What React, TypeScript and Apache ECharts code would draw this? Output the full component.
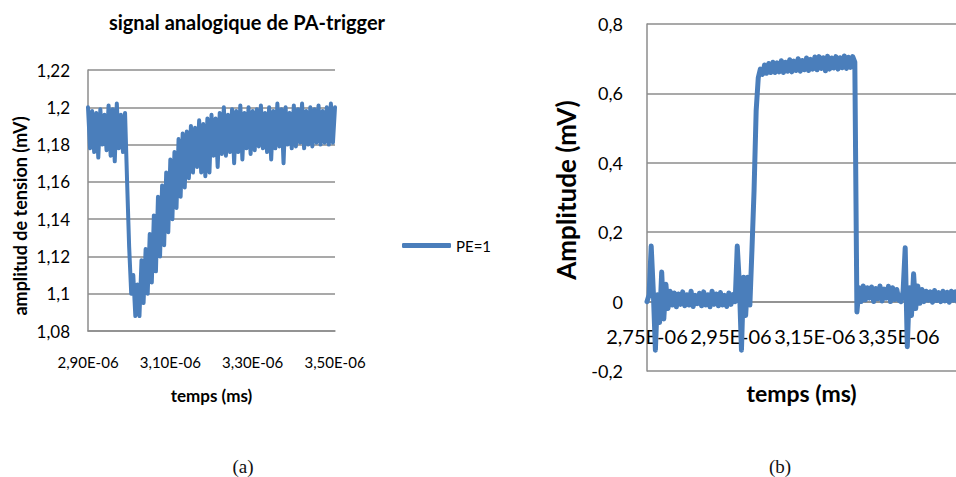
import React, { useEffect, useRef } from "react";
import * as echarts from "echarts";

// ---- Data: chart (a) — signal analogique de PA-trigger ----
const leftSeriesName = "PE=1";
const leftStartTime = 2.9e-6; // first sample time
const leftSampleStep = 0.005e-6;
const leftAmplitude = [
  1.2, 1.178, 1.198, 1.176, 1.197, 1.173, 1.199, 1.18, 1.196, 1.177,
  1.201, 1.174, 1.199, 1.171, 1.202, 1.178, 1.196, 1.176, 1.197, 1.16,
  1.125, 1.1, 1.11, 1.088, 1.105, 1.088, 1.118, 1.095, 1.124, 1.1,
  1.132, 1.106, 1.142, 1.112, 1.152, 1.12, 1.158, 1.126, 1.165, 1.133,
  1.172, 1.14, 1.176, 1.146, 1.183, 1.152, 1.186, 1.157, 1.187, 1.162,
  1.19, 1.165, 1.189, 1.168, 1.193, 1.165, 1.191, 1.163, 1.194, 1.165,
  1.196, 1.174, 1.194, 1.168, 1.197, 1.175, 1.2, 1.174, 1.196, 1.176,
  1.199, 1.17, 1.198, 1.176, 1.201, 1.172, 1.197, 1.178, 1.2, 1.175,
  1.198, 1.177, 1.199, 1.179, 1.201, 1.178, 1.197, 1.176, 1.2, 1.172,
  1.198, 1.178, 1.202, 1.179, 1.199, 1.17, 1.2, 1.18, 1.197, 1.178,
  1.201, 1.179, 1.199, 1.181, 1.202, 1.178, 1.198, 1.18, 1.2, 1.179,
  1.199, 1.181, 1.201, 1.18, 1.198, 1.181, 1.2, 1.18, 1.202, 1.181,
  1.2,
];
const leftYTicks = { min: 1.08, max: 1.22, step: 0.02 };
const leftXTicks = { min: 2.9e-6, max: 3.5e-6, step: 0.2e-6 };

// ---- Data: chart (b) — Amplitude ----
const rightSeriesName = "Amplitude";
const rightStartTime = 2.75e-6;
const rightSampleStep = 0.005e-6;
const rightAmplitude = [
  0.0, 0.02, 0.16, 0.03, -0.14, 0.02, -0.06, 0.085, -0.05, 0.05,
  -0.02, 0.03, -0.01, 0.025, -0.015, 0.022, -0.008, 0.028, -0.012, 0.02,
  -0.01, 0.03, -0.014, 0.018, -0.006, 0.024, -0.012, 0.028, -0.01, 0.02,
  -0.015, 0.03, -0.008, 0.022, -0.012, 0.026, -0.01, 0.018, -0.014, 0.025,
  -0.008, 0.02, 0.0, 0.16, 0.05, -0.14, 0.07, -0.04, 0.07, -0.01,
  0.15, 0.32, 0.55, 0.645, 0.67, 0.655, 0.682, 0.658, 0.686, 0.66,
  0.69, 0.66, 0.688, 0.662, 0.694, 0.66, 0.69, 0.664, 0.697, 0.662,
  0.693, 0.666, 0.7, 0.664, 0.695, 0.668, 0.702, 0.666, 0.698, 0.67,
  0.705, 0.668, 0.706, 0.672, 0.703, 0.665, 0.707, 0.67, 0.702, 0.673,
  0.706, 0.67, 0.703, 0.674, 0.708, 0.672, 0.704, 0.675, 0.706, 0.69,
  -0.03, 0.04, 0.0, 0.045, 0.005, 0.04, 0.01, 0.042, 0.0, 0.038,
  0.008, 0.045, 0.002, 0.036, 0.01, 0.044, 0.0, 0.04, 0.006, 0.035,
  0.004, 0.0, 0.03, 0.155, -0.13, 0.04, -0.04, 0.08, -0.02, 0.045,
  -0.005, 0.035, 0.0, 0.03, 0.004, 0.028, -0.002, 0.032, 0.003, 0.026,
  0.0, 0.03, 0.002, 0.027, -0.002, 0.03, 0.004, 0.028, 0.0,
];
const rightYTicks = { min: -0.2, max: 0.8, step: 0.2 };
const rightXTicks = { min: 2.75e-6, max: 3.486e-6, step: 0.2e-6 };

const LINE_COLOR = "#4a7ebb";
const GRID_COLOR = "#8c8c8c";
const FONT = "Lato, 'Open Sans', sans-serif";
const SERIF = "'Liberation Serif', 'DejaVu Serif', serif";

function sciLabel(v: number): string {
  const e = Math.floor(Math.log10(Math.abs(v)) + 1e-9);
  const m = v / Math.pow(10, e);
  const sign = e < 0 ? "-" : "+";
  return m.toFixed(2).replace(".", ",") + "E" + sign + String(Math.abs(e)).padStart(2, "0");
}
function decLabel(v: number): string {
  return String(Math.round(v * 100) / 100).replace(".", ",");
}

export default function App() {
  const ref = useRef<HTMLDivElement>(null);
  useEffect(() => {
    if (!ref.current) return;
    const chart = echarts.init(ref.current, undefined, { renderer: "svg" });
    const leftData = leftAmplitude.map((y, i) => [leftStartTime + i * leftSampleStep, y]);
    const rightData = rightAmplitude.map((y, i) => [rightStartTime + i * rightSampleStep, y]);

    const axisLine = { show: true, onZero: false, lineStyle: { color: GRID_COLOR, width: 1.5 } };
    const splitLine = { show: true, lineStyle: { color: GRID_COLOR, width: 1.5 } };

    // right chart: x axis sits on the zero line
    const rightGridHeight = 347;
    const zeroOffset = -rightGridHeight * (0 - rightYTicks.min) / (rightYTicks.max - rightYTicks.min);

    chart.setOption({
      animation: false,
      backgroundColor: "#ffffff",
      grid: [
        { left: 88, top: 70, width: 247, height: 261, containLabel: false },
        { left: 647, top: 24, right: 0, height: rightGridHeight, containLabel: false },
      ],
      legend: {
        data: [{ name: leftSeriesName, icon: "roundRect" }],
        left: 397,
        top: 233,
        itemWidth: 49,
        itemHeight: 5,
        textStyle: { fontFamily: FONT, fontSize: 15, color: "#000" },
        selectedMode: false,
      },
      xAxis: [
        {
          type: "value",
          gridIndex: 0,
          min: leftXTicks.min,
          max: leftXTicks.max,
          interval: leftXTicks.step,
          axisLine,
          axisTick: { show: false },
          splitLine: { show: false },
          axisLabel: {
            formatter: sciLabel,
            fontFamily: FONT,
            fontSize: 15,
            color: "#000",
            margin: 23,
            showMinLabel: true,
            showMaxLabel: true,
          },
          name: "temps (ms)",
          nameLocation: "middle",
          nameGap: 56,
          nameTextStyle: { fontFamily: FONT, fontSize: 17, fontWeight: "bold", color: "#000" },
        },
        {
          type: "value",
          gridIndex: 1,
          min: rightXTicks.min,
          max: rightXTicks.max,
          interval: rightXTicks.step,
          offset: zeroOffset,
          axisLine,
          axisTick: { show: false },
          splitLine: { show: false },
          axisLabel: {
            formatter: sciLabel,
            fontFamily: FONT,
            fontSize: 20,
            color: "#000",
            margin: 24,
            showMinLabel: true,
            showMaxLabel: false,
            hideOverlap: false,
          },
          name: "temps (ms)",
          nameLocation: "middle",
          nameGap: 80,
          nameTextStyle: { fontFamily: FONT, fontSize: 23, fontWeight: "bold", color: "#000" },
        },
      ],
      yAxis: [
        {
          type: "value",
          gridIndex: 0,
          min: leftYTicks.min,
          max: leftYTicks.max,
          interval: leftYTicks.step,
          axisLine,
          axisTick: { show: false },
          splitLine,
          axisLabel: {
            formatter: decLabel,
            fontFamily: FONT,
            fontSize: 17,
            color: "#000",
            margin: 18,
            showMinLabel: true,
            showMaxLabel: true,
          },
        },
        {
          type: "value",
          gridIndex: 1,
          min: rightYTicks.min,
          max: rightYTicks.max,
          interval: rightYTicks.step,
          axisLine,
          axisTick: { show: false },
          splitLine,
          axisLabel: {
            formatter: decLabel,
            fontFamily: FONT,
            fontSize: 18,
            color: "#000",
            margin: 24,
            showMinLabel: true,
            showMaxLabel: true,
          },
        },
      ],
      series: [
        {
          name: leftSeriesName,
          type: "line",
          xAxisIndex: 0,
          yAxisIndex: 0,
          data: leftData,
          symbol: "none",
          lineStyle: { color: LINE_COLOR, width: 4, join: "round", cap: "round" },
          itemStyle: { color: LINE_COLOR },
        },
        {
          name: rightSeriesName,
          type: "line",
          xAxisIndex: 1,
          yAxisIndex: 1,
          data: rightData,
          symbol: "none",
          lineStyle: { color: LINE_COLOR, width: 5, join: "round", cap: "round" },
          itemStyle: { color: LINE_COLOR },
        },
      ],
      graphic: [
        {
          type: "text",
          x: 247,
          y: 22,
          style: {
            text: "signal analogique de PA-trigger",
            align: "center",
            verticalAlign: "middle",
            fontFamily: FONT,
            fontSize: 20,
            fontWeight: "bold",
            fill: "#000",
          },
        },
        {
          type: "text",
          x: 20,
          y: 216,
          rotation: Math.PI / 2,
          style: {
            text: "amplitud de tension (mV)",
            align: "center",
            verticalAlign: "middle",
            fontFamily: FONT,
            fontSize: 18,
            fontWeight: "bold",
            fill: "#000",
          },
        },
        {
          type: "text",
          x: 566,
          y: 190,
          rotation: Math.PI / 2,
          style: {
            text: "Amplitude (mV)",
            align: "center",
            verticalAlign: "middle",
            fontFamily: FONT,
            fontSize: 26,
            fontWeight: "bold",
            fill: "#000",
          },
        },
        {
          type: "text",
          x: 243,
          y: 466,
          style: {
            text: "(a)",
            align: "center",
            verticalAlign: "middle",
            fontFamily: SERIF,
            fontSize: 19,
            fill: "#111",
          },
        },
        {
          type: "text",
          x: 780,
          y: 466,
          style: {
            text: "(b)",
            align: "center",
            verticalAlign: "middle",
            fontFamily: SERIF,
            fontSize: 19,
            fill: "#111",
          },
        },
      ],
    });
    return () => chart.dispose();
  }, []);
  return (
    <div
      ref={ref}
      style={{ position: "fixed", left: 0, top: 0, width: 956, height: 477, background: "#fff" }}
    />
  );
}
